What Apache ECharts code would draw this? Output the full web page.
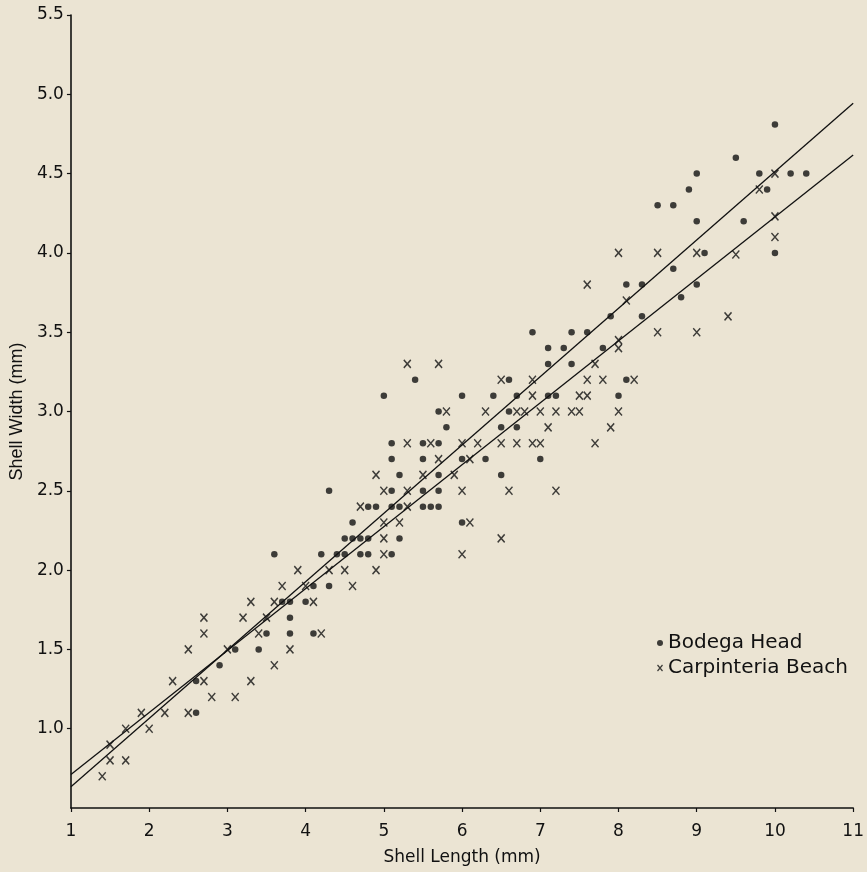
<!DOCTYPE html>
<html>
<head>
<meta charset="utf-8">
<script src="https://cdn.jsdelivr.net/npm/echarts@6/dist/echarts.min.js"></script>
<style>
html,body{margin:0;padding:0;background:#ebe4d3;}
#chart{width:867px;height:872px;}
</style>
</head>
<body>
<div id="chart"></div>
<script>
// Bodega Head (dots): [shell length, shell width]
const bodegaHead = [
  [2.6,1.1],[2.6,1.3],[2.9,1.4],[3.1,1.5],[3.4,1.5],[3.5,1.6],[3.7,1.8],[3.6,2.1],
  [3.8,1.8],[3.8,1.7],[3.8,1.6],[4.1,1.9],[4.0,1.8],[4.1,1.6],[4.3,1.9],[4.2,2.1],
  [4.4,2.1],[4.5,2.1],[4.7,2.1],[4.8,2.1],[5.1,2.1],[4.3,2.5],[4.5,2.2],[4.6,2.2],
  [4.7,2.2],[4.8,2.2],[5.2,2.2],[4.6,2.3],[4.8,2.4],[4.9,2.4],[5.1,2.4],[5.2,2.4],
  [5.5,2.4],[5.6,2.4],[5.7,2.4],[5.2,2.6],[5.1,2.5],[5.5,2.5],[5.7,2.5],[5.7,2.6],
  [5.5,2.7],[5.1,2.7],[5.1,2.8],[5.5,2.8],[5.7,2.8],[5.8,2.9],[5.0,3.1],[5.4,3.2],
  [5.7,3.0],[6.0,3.1],[6.4,3.1],[6.7,3.1],[7.1,3.1],[7.2,3.1],[8.0,3.1],[6.6,3.2],
  [8.1,3.2],[6.6,3.0],[6.5,2.9],[6.7,2.9],[6.0,2.7],[6.3,2.7],[7.0,2.7],[6.5,2.6],
  [6.0,2.3],[6.9,3.5],[7.4,3.5],[7.6,3.5],[7.9,3.6],[7.1,3.4],[7.3,3.4],[7.1,3.3],
  [7.4,3.3],[7.8,3.4],[8.3,3.6],[8.1,3.8],[8.3,3.8],[8.8,3.72],[8.7,3.9],[9.0,3.8],
  [9.1,4.0],[9.0,4.2],[8.5,4.3],[8.7,4.3],[8.9,4.4],[9.0,4.5],[9.5,4.6],[9.6,4.2],
  [9.8,4.5],[9.9,4.4],[10.0,4.81],[10.2,4.5],[10.4,4.5],[10.0,4.0]
];
// Carpinteria Beach (x marks)
const carpinteriaBeach = [
  [1.4,0.7],[1.5,0.9],[1.5,0.8],[1.7,0.8],[1.7,1.0],[1.9,1.1],[2.0,1.0],[2.2,1.1],
  [2.5,1.5],[2.3,1.3],[2.5,1.1],[2.7,1.3],[2.8,1.2],[3.0,1.5],[3.1,1.2],[3.3,1.3],
  [3.6,1.4],[3.8,1.5],[2.7,1.7],[2.7,1.6],[3.2,1.7],[3.3,1.8],[3.4,1.6],[3.5,1.7],
  [3.6,1.8],[3.7,1.9],[3.9,2.0],[4.0,1.9],[4.1,1.8],[4.2,1.6],[4.3,2.0],[4.5,2.0],
  [4.6,1.9],[5.0,2.1],[4.9,2.0],[5.0,2.2],[5.0,2.3],[5.2,2.3],[4.7,2.4],[5.3,2.4],
  [4.9,2.6],[5.5,2.6],[5.0,2.5],[5.3,2.5],[5.7,2.7],[5.3,2.8],[5.6,2.8],[5.3,3.3],
  [5.7,3.3],[8.1,3.7],[7.7,3.3],[8.0,3.45],[8.0,3.4],[7.6,3.2],[7.8,3.2],[8.2,3.2],
  [6.5,3.2],[6.9,3.2],[6.9,3.1],[7.5,3.1],[7.6,3.1],[5.8,3.0],[6.3,3.0],[6.7,3.0],
  [6.8,3.0],[7.0,3.0],[7.2,3.0],[7.4,3.0],[7.5,3.0],[8.0,3.0],[7.1,2.9],[7.9,2.9],
  [6.0,2.8],[6.2,2.8],[6.5,2.8],[6.7,2.8],[6.9,2.8],[7.0,2.8],[7.7,2.8],[6.1,2.7],
  [5.9,2.6],[6.0,2.5],[6.6,2.5],[7.2,2.5],[6.1,2.3],[6.5,2.2],[6.0,2.1],[7.6,3.8],
  [8.0,4.0],[8.5,4.0],[9.0,4.0],[9.5,3.99],[9.4,3.6],[8.5,3.5],[9.0,3.5],[10.0,4.5],
  [9.8,4.4],[10.0,4.23],[10.0,4.1]
];
// Regression lines (end points)
const regressionLineA = [[1,0.711],[11,4.618]];
const regressionLineB = [[1,0.634],[11,4.944]];
// Axis ticks
const xTicks = [1,2,3,4,5,6,7,8,9,10,11];
const yTicks = [1.0,1.5,2.0,2.5,3.0,3.5,4.0,4.5,5.0,5.5];

const ink = '#111111';
const xPath = 'path://M0,0L10,12M10,0L0,12';

const chart = echarts.init(document.getElementById('chart'));
chart.setOption({
  backgroundColor: '#ebe4d3',
  animation: false,
  grid: {left: 70, right: 10, top: 15, bottom: 64},
  legend: {
    orient: 'vertical',
    left: 650,
    top: 628,
    itemWidth: 6,
    itemHeight: 6,
    itemGap: 5,
    selectedMode: false,
    textStyle: {fontFamily: 'DejaVu Sans', fontSize: 20, color: ink, lineHeight: 20},
    data: [
      {name: 'Bodega Head', icon: 'circle', itemStyle: {color: ink, borderWidth: 0}},
      {name: 'Carpinteria Beach', icon: xPath, itemStyle: {color: 'none', borderColor: ink, borderWidth: 1.2}}
    ]
  },
  xAxis: {
    type: 'value', min: 1, max: 11, interval: 1,
    name: 'Shell Length (mm)', nameLocation: 'middle', nameGap: 41,
    nameTextStyle: {fontFamily: 'DejaVu Sans', fontSize: 17, color: ink},
    axisLine: {show: true, onZero: false, lineStyle: {color: ink, width: 1.6}},
    axisTick: {show: true, inside: false, length: 4, lineStyle: {color: ink, width: 1.2}, customValues: xTicks},
    axisLabel: {fontFamily: 'DejaVu Sans', fontSize: 17, color: ink, margin: 15, customValues: xTicks, formatter: v => String(v)},
    splitLine: {show: false}
  },
  yAxis: {
    type: 'value', min: 0.5, max: 5.5, interval: 0.5,
    name: 'Shell Width (mm)', nameLocation: 'middle', nameGap: 44, nameRotate: 90,
    nameTextStyle: {fontFamily: 'Liberation Sans', fontSize: 18, color: ink},
    axisLine: {show: true, onZero: false, lineStyle: {color: ink, width: 1.6}},
    axisTick: {show: true, inside: false, length: 4, lineStyle: {color: ink, width: 1.2}, customValues: yTicks},
    axisLabel: {fontFamily: 'DejaVu Sans', fontSize: 17, color: ink, margin: 7, padding: [6,0,0,0], customValues: yTicks, formatter: v => v.toFixed(1)},
    splitLine: {show: false}
  },
  series: [
    {
      name: 'Bodega Head', type: 'scatter', data: bodegaHead,
      symbol: 'circle', symbolSize: 6.5,
      itemStyle: {color: ink},
      emphasis: {disabled: true}, z: 3
    },
    {
      name: 'Carpinteria Beach', type: 'scatter', data: carpinteriaBeach,
      symbol: xPath, symbolSize: [7, 8],
      itemStyle: {color: 'none', borderColor: ink, borderWidth: 1.5},
      emphasis: {disabled: true}, z: 3
    },
    {
      name: 'lineA', type: 'line', data: regressionLineA, showSymbol: false, symbol: 'none',
      lineStyle: {color: ink, width: 1.3}, silent: true, z: 2
    },
    {
      name: 'lineB', type: 'line', data: regressionLineB, showSymbol: false, symbol: 'none',
      lineStyle: {color: ink, width: 1.3}, silent: true, z: 2
    }
  ]
});
</script>
</body>
</html>
